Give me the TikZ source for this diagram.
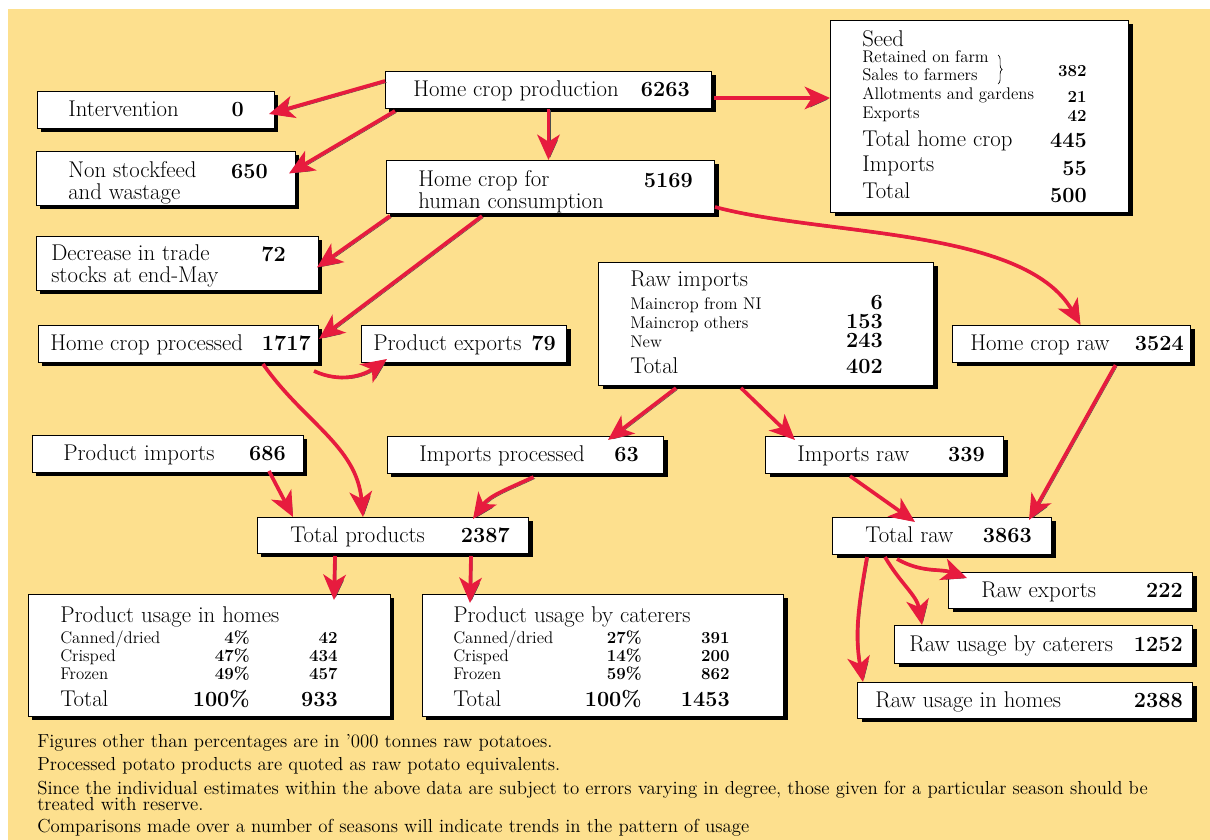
\documentclass[tikz,border=0pt]{standalone}
\usepackage{fontspec}
\usetikzlibrary{arrows.meta,calc,shadows,decorations.pathreplacing}
\definecolor{paper}{RGB}{253,224,142}
\definecolor{flowred}{RGB}{231,27,62}
\newcommand{\px}{0.025cm}
\newcommand{\lbl}{\fontsize{16.2}{14.2}\selectfont}
\newcommand{\fig}{\fontsize{15.4}{14.2}\selectfont\bfseries}
\newcommand{\sml}{\fontsize{12}{12}\selectfont}
\newcommand{\note}{\fontsize{13.4}{11.4}\selectfont}
\newcommand{\twoline}[2]{\begin{tabular}[t]{@{}l@{}}#1\\#2\end{tabular}}
\begin{document}
\begin{tikzpicture}[x=\px,y=-\px]
\tikzset{box/.style={draw,line width=0.7pt,fill=white,anchor=north west,inner sep=0pt,drop shadow={shadow xshift=0.1cm,shadow yshift=-0.1cm,opacity=1,fill=black}}, lab/.style={anchor=base west,inner sep=0pt,font=\lbl}, num/.style={anchor=base east,inner sep=0pt,font=\fig}, flow/.style={draw=flowred,line width=2.6pt,-{Stealth[length=18pt,width=16pt,inset=5pt]},preaction={draw=black!70,transform canvas={shift={(1.5,1.5)}}}}}
\fill[white] (0,0) rectangle (1210,840);
\fill[paper] (8,9) rectangle (1210,840);
\useasboundingbox (0,0) rectangle (1210,840);
% boxes, given by their corners in pixels
\foreach \n/\xa/\ya/\xb/\yb in {hcp/385/71/711/108,int/37/91/274/128,nsw/36/151/295/205,dec/36/236/318/290,hch/386/160/714/213,seed/830/20/1128/212,hcproc/38/325/318/362,pexp/361/325/566/362,rawimp/598/262/933/385,hcr/952/325/1190/362,pimp/32/435/303/472,iproc/387/436/663/473,iraw/765/436/1003/473,tprod/257/517/528/553,traw/832/517/1051/554,phome/28/594/390/716,pcat/422/594/783/716,rexp/948/572/1192/608,rcat/894/625/1192/663,rhome/857/682/1192/718}{\node[box,minimum width={(\xb-\xa)*\px},minimum height={(\yb-\ya)*\px}] (\n) at (\xa,\ya) {};}
% one-line boxes: label inset from the west side, figure inset from the east side
\foreach \n/\dl/\t/\dn/\v in {hcp/28/{Home crop production}/22/6263,int/31/Intervention/31/0,hcproc/12/{Home crop processed}/8/1717,pexp/12/{Product exports}/11/79,hcr/18/{Home crop raw}/7/3524,pimp/31/{Product imports}/18/686,iproc/32/{Imports processed}/25/63,iraw/32/{Imports raw}/19/339,tprod/33/{Total products}/19/2387,traw/33/{Total raw}/20/3863,rexp/33/{Raw exports}/10/222,rcat/15/{Raw usage by caterers}/10/1252,rhome/18/{Raw usage in homes}/10/2388}{\node[lab] (\n-l) at ($(\n.west)+(\dl,7)$) {\t}; \node[num] (\n-v) at ($(\n.east)+(-\dn,7)$) {\v};}
% two-line boxes
\foreach \n/\dl/\ta/\tb/\dn/\v/\dy in {nsw/32/{Non stockfeed}/{and wastage}/28/650/-1,dec/15/{Decrease in trade}/{stocks at end-May}/33/72/-3,hch/32/{Home crop for}/{human consumption}/22/5169/0}{\node[lab] (\n-l) at ($(\n.west)+(\dl,\dy)$) {\twoline{\ta}{\tb}}; \node[num] (\n-v) at ($(\n.east)+(-\dn,\dy+1)$) {\v};}
% seed table
\foreach \y/\f/\t [count=\i] in {27/\lbl/Seed,43/\sml/{Retained on farm},61/\sml/{Sales to farmers},80/\sml/{Allotments and gardens},99/\sml/Exports,127/\lbl/{Total home crop},152/\lbl/Imports,178/\lbl/Total}{\node[lab,font=\f] (seed-l\i) at ($(seed.north west)+(32,\y)$) {\t};}
\foreach \y/\f/\v [count=\i] in {57/\sml\bfseries/382,83/\sml\bfseries/21,102/\sml\bfseries/42,128/\fig/445,156/\fig/55,182/\fig/500}{\node[num,font=\f] (seed-v\i) at ($(seed.north west)+(257,\y)$) {\v};}
\draw[line width=0.5pt,decorate,decoration={brace,amplitude=3pt}] ($(seed.north west)+(168,35)$) -- ($(seed.north west)+(168,64)$);
% raw imports table
\node[lab] (rawimp-t) at ($(rawimp.north west)+(32,24)$) {Raw imports};
\foreach \y/\f/\t/\v [count=\i] in {47/\sml/{Maincrop from NI}/6,66/\sml/{Maincrop others}/153,85/\sml/New/243,111/\lbl/Total/402}{\node[lab,font=\f] (rawimp-l\i) at ($(rawimp.north west)+(32,\y)$) {\t}; \node[num] (rawimp-v\i) at ($(rawimp.north west)+(285,\y)$) {\v};}
% product usage tables
\foreach \b/\dl/\h in {phome/32/{Product usage in homes},pcat/31/{Product usage by caterers}}{\node[lab] (\b-t) at ($(\b.north west)+(\dl,28)$) {\h};}
\foreach \y/\t/\p/\v [count=\i] in {49/{Canned/dried}/4/42,67/Crisped/47/434,85/Frozen/49/457}{\node[lab,font=\sml] (phome-l\i) at ($(phome.north west)+(32,\y)$) {\t}; \node[num,font=\sml\bfseries] (phome-p\i) at ($(phome.north west)+(222,\y)$) {\p\%}; \node[num,font=\sml\bfseries] (phome-v\i) at ($(phome.north west)+(310,\y)$) {\v};}
\foreach \y/\t/\p/\v [count=\i] in {49/{Canned/dried}/27/391,67/Crisped/14/200,85/Frozen/59/862}{\node[lab,font=\sml] (pcat-l\i) at ($(pcat.north west)+(31,\y)$) {\t}; \node[num,font=\sml\bfseries] (pcat-p\i) at ($(pcat.north west)+(220,\y)$) {\p\%}; \node[num,font=\sml\bfseries] (pcat-v\i) at ($(pcat.north west)+(308,\y)$) {\v};}
\foreach \b/\dl/\dp/\dn/\v in {phome/32/222/310/933,pcat/31/220/308/1453}{\node[lab] (\b-tl) at ($(\b.north west)+(\dl,112)$) {Total}; \node[num] (\b-tp) at ($(\b.north west)+(\dp,112)$) {100\%}; \node[num] (\b-tv) at ($(\b.north west)+(\dn,112)$) {\v};}
% flows
\draw[flow] ($(hcp.west)+(0,-9)$) -- ($(int.east)+(-6,4)$);
\draw[flow] ($(hcp.south west)+(10,2)$) -- ($(nsw.east)+(-7,-5)$);
\draw[flow] (hcp.south) -- ($(hch.north)+(-2,0)$);
\draw[flow] ($(hcp.east)+(2,8)$) -- ($(seed.west |- hcp.east)+(0,8)$);
\draw[flow] ($(hch.south west)+(4,2)$) -- ($(dec.east)+(-2,4)$);
\draw[flow] ($(hch.south west)+(96,2)$) -- ($(hcproc.east)+(0,-5)$);
\draw[flow] ($(hch.east)+(0,20)$) to[out=-15,in=120,looseness=0.75] ($(hcr.north)+(9,0)$);
\draw[flow] ($(hcproc.south east)+(-5,8)$) to[out=-25,in=215] ($(pexp.south west)+(26,-4)$);
\draw[flow] ($(hcproc.south east)+(-56,1)$) to[out=-55,in=95] ($(tprod.north)+(-30,0)$);
\draw[flow] ($(pimp.south east)+(-35,-2)$) -- ($(tprod.north west)+(36,0)$);
\draw[flow] ($(iproc.south)+(8,3)$) to[out=205,in=55] ($(tprod.north east)+(-56,2)$);
\draw[flow] ($(rawimp.south)+(-90,2)$) -- ($(iproc.north east)+(-56,4)$);
\draw[flow] ($(rawimp.south)+(-25,2)$) -- ($(iraw.north west)+(30,4)$);
\draw[flow] ($(hcr.south)+(44,2)$) -- ($(traw.north east)+(-23,3)$);
\draw[flow] ($(iraw.south west)+(85,2)$) -- ($(traw.north west)+(83,5)$);
\draw[flow] ($(tprod.south west)+(78,2)$) -- ($(phome.north east)+(-57,6)$);
\draw[flow] ($(tprod.south east)+(-58,2)$) -- ($(pcat.north west)+(48,9)$);
\draw[flow] ($(traw.south west)+(65,4)$) to[out=-30,in=160] ($(rexp.north west)+(19,6)$);
\draw[flow] ($(traw.south west)+(53,2)$) to[out=-60,in=100] ($(rcat.north west)+(28,0)$);
\draw[flow] ($(traw.south west)+(35,2)$) to[out=-100,in=100] ($(rhome.north west)+(6,0)$);
% footnotes
\foreach \y/\t [count=\i] in {747/{Figures other than percentages are in '000 tonnes raw potatoes.},770/{Processed potato products are quoted as raw potato equivalents.},794/{Since the individual estimates within the above data are subject to errors varying in degree, those given for a particular season should be},810/{treated with reserve.},832/{Comparisons made over a number of seasons will indicate trends in the pattern of usage}}{\node[lab,font=\note] (note\i) at (37,\y) {\t};}
\end{tikzpicture}
\end{document}
